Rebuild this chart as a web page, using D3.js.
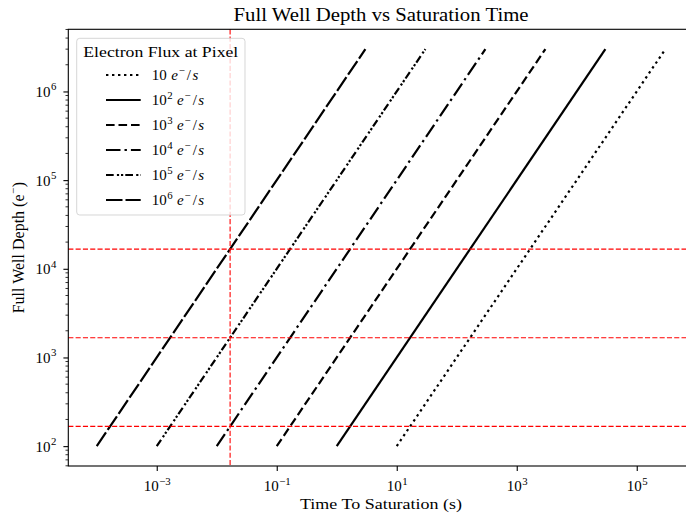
<!DOCTYPE html>
<html lang="en">
<head>
    <meta charset="UTF-8">
    <title>Full Well Depth vs Saturation Time</title>
    <script src="https://d3js.org/d3.v7.min.js"></script>
    <style>
        body {
            margin: 0;
            background: #fff;
        }
        svg {
            display: block;
            font-family: "Liberation Serif", "DejaVu Serif", serif;
        }
    </style>
</head>
<body>
    <svg width="686" height="519"></svg>

    <script>
        // Data
        const fluxExponents = ["", "2", "3", "4", "5", "6"];
        const wellDepths = [1e2, 3e6];
        const saturationTimes = [
            [1e1, 3e5],
            [1e0, 3e4],
            [1e-1, 3e3],
            [1e-2, 3e2],
            [1e-3, 3e1],
            [1e-4, 3e0]
        ];
        const markerTime = 0.0167;
        const markerDepths = [167, 1667, 16670];
        const xTickValues = [1e-3, 1e-1, 1e1, 1e3, 1e5];
        const xTickExponents = ["\u22123", "\u22121", "1", "3", "5"];
        const yTickValues = [1e2, 1e3, 1e4, 1e5, 1e6];
        const yTickExponents = ["2", "3", "4", "5", "6"];

        // line styles (px dash patterns)
        const dashes = [
            "2.4,3.6",
            null,
            "8.6,3.9",
            "14.5,4,2.4,4",
            "7.7,3.2,2.2,1.9,2.2,2.1",
            "16.5,3"
        ];

        const svg = d3.select("svg");
        const m = { left: 68.3, right: 693.8, top: 29.3, bottom: 466 };

        const x = d3.scaleLog().domain([Math.pow(10, -4.474), Math.pow(10, 5.951)]).range([m.left, m.right]);
        const y = d3.scaleLog().domain([Math.pow(10, 1.776), Math.pow(10, 6.701)]).range([m.bottom, m.top]);

        const line = d3.line().x(d => x(d[0])).y(d => y(d[1]));

        // flux lines
        svg.append("g")
            .selectAll("path")
            .data(saturationTimes)
            .enter().append("path")
            .attr("d", d => line(d.map((t, i) => [t, wellDepths[i]])))
            .attr("fill", "none")
            .attr("stroke", "#000")
            .attr("stroke-width", 2.2)
            .attr("stroke-dasharray", (d, i) => dashes[i]);

        // red reference lines
        const refs = svg.append("g")
            .attr("stroke", "red")
            .attr("stroke-width", 1.1)
            .attr("stroke-dasharray", "5.1,2.2");
        refs.selectAll("line.h")
            .data(markerDepths)
            .enter().append("line")
            .attr("x1", m.left).attr("x2", m.right)
            .attr("y1", d => y(d)).attr("y2", d => y(d));
        refs.append("line")
            .attr("x1", x(markerTime)).attr("x2", x(markerTime))
            .attr("y1", m.top).attr("y2", m.bottom);

        // axes
        function powerLabels(sel, exps) {
            sel.selectAll(".tick text").each(function(d, i) {
                const t = d3.select(this).text(null);
                t.append("tspan").text("10");
                t.append("tspan")
                    .attr("font-size", "10.8px")
                    .attr("dx", 0.5)
                    .attr("dy", "-6.5")
                    .text(exps[i]);
            });
        }

        const xAxis = svg.append("g")
            .attr("transform", `translate(0,${m.bottom})`)
            .call(d3.axisBottom(x).tickValues(xTickValues).tickSize(4.9).tickPadding(5));
        xAxis.selectAll(".tick text").attr("dy", null).attr("y", 25);
        powerLabels(xAxis, xTickExponents);

        const yAxis = svg.append("g")
            .attr("transform", `translate(${m.left},0)`)
            .call(d3.axisLeft(y).tickValues(yTickValues).tickSize(4.9).tickPadding(5));
        yAxis.selectAll(".tick text").attr("dy", null).attr("y", 5).attr("x", -12);
        powerLabels(yAxis, yTickExponents);

        // y minor ticks
        const minor = [];
        for (let e = 1; e <= 6; e++) {
            for (let k = 2; k <= 9; k++) {
                const v = k * Math.pow(10, e);
                if (v >= y.domain()[0] && v <= y.domain()[1]) minor.push(v);
            }
        }
        svg.append("g")
            .selectAll("line")
            .data(minor)
            .enter().append("line")
            .attr("x1", m.left - 2.8).attr("x2", m.left)
            .attr("y1", d => y(d)).attr("y2", d => y(d))
            .attr("stroke", "#000")
            .attr("stroke-width", 0.8);

        svg.selectAll(".domain").remove();
        svg.selectAll(".tick line").attr("stroke-width", 1.1);
        svg.selectAll(".tick text")
            .attr("font-size", "15px")
            .attr("font-family", "Liberation Serif, serif")
            .attr("fill", "#000");

        // frame (right edge falls outside the picture)
        svg.append("rect")
            .attr("x", m.left).attr("y", m.top)
            .attr("width", m.right - m.left).attr("height", m.bottom - m.top)
            .attr("fill", "none")
            .attr("stroke", "#000")
            .attr("stroke-width", 1.1);

        // title and labels
        svg.append("text")
            .attr("x", (m.left + m.right) / 2).attr("y", 20.5)
            .attr("text-anchor", "middle")
            .attr("font-size", "18.5px")
            .attr("textLength", 295).attr("lengthAdjust", "spacingAndGlyphs")
            .text("Full Well Depth vs Saturation Time");

        svg.append("text")
            .attr("x", 381).attr("y", 509)
            .attr("text-anchor", "middle")
            .attr("font-size", "15.5px")
            .attr("textLength", 162).attr("lengthAdjust", "spacingAndGlyphs")
            .text("Time To Saturation (s)");

        const ylab = svg.append("text")
            .attr("transform", `translate(23.5,${(m.top + m.bottom) / 2}) rotate(-90)`)
            .attr("text-anchor", "middle")
            .attr("font-size", "16px");
        ylab.append("tspan").text("Full Well Depth (e");
        ylab.append("tspan").attr("font-size", "11px").attr("dx", 0.5).attr("dy", -6.5).text("\u2212");
        ylab.append("tspan").attr("dx", 0.5).attr("dy", 6.5).text(")");

        // legend
        const legend = svg.append("g");
        legend.append("rect")
            .attr("x", 76.7).attr("y", 38.3)
            .attr("width", 168.3).attr("height", 176.7)
            .attr("rx", 3)
            .attr("fill", "#fff").attr("fill-opacity", 0.8)
            .attr("stroke", "#ccc").attr("stroke-opacity", 0.8)
            .attr("stroke-width", 1);
        legend.append("text")
            .attr("x", 160.8).attr("y", 56.5)
            .attr("text-anchor", "middle")
            .attr("font-size", "15.5px")
            .attr("textLength", 155).attr("lengthAdjust", "spacingAndGlyphs")
            .text("Electron Flux at Pixel");

        const entries = legend.selectAll("g.entry")
            .data(fluxExponents)
            .enter().append("g")
            .attr("transform", (d, i) => `translate(0,${75 + i * 25})`);
        entries.append("line")
            .attr("x1", 106).attr("x2", 140.7)
            .attr("stroke", "#000")
            .attr("stroke-width", 2.2)
            .attr("stroke-dasharray", (d, i) => dashes[i]);
        const labels = entries.append("text")
            .attr("x", 151.7).attr("y", 5)
            .attr("font-size", "15px");
        labels.append("tspan").text("10");
        labels.filter(d => d !== "").append("tspan")
            .attr("font-size", "10.8px").attr("dx", 0.5).attr("dy", -6.5)
            .text(d => d);
        labels.append("tspan")
            .attr("y", 5).attr("dx", 4.5)
            .attr("font-style", "italic").text("e");
        labels.append("tspan")
            .attr("font-size", "10.8px").attr("dx", 0.8).attr("dy", -6.5).text("\u2212");
        labels.append("tspan")
            .attr("dy", 6.5).attr("dx", 2).text("/");
        labels.append("tspan")
            .attr("font-style", "italic").attr("dx", 1.5).text("s");
    </script>
</body>
</html>
